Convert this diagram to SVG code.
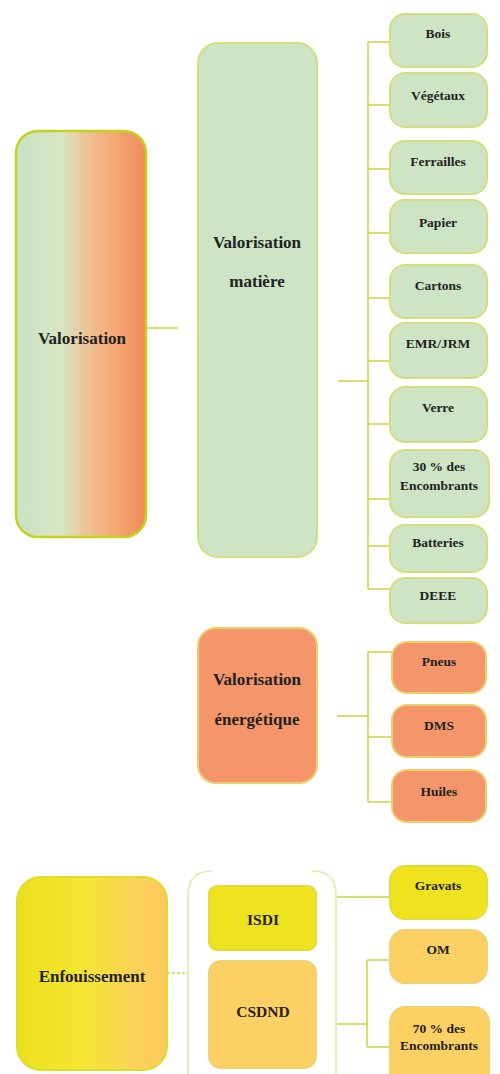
<svg xmlns="http://www.w3.org/2000/svg" width="500" height="1074" viewBox="0 0 500 1074">
<defs>
<linearGradient id="gVal" x1="0" y1="0" x2="1" y2="0">
<stop offset="0" stop-color="#c7e3c6"/>
<stop offset="0.35" stop-color="#d9e6c3"/>
<stop offset="0.52" stop-color="#eac79c"/>
<stop offset="0.7" stop-color="#f5b07c"/>
<stop offset="0.86" stop-color="#f29b68"/>
<stop offset="1" stop-color="#ee8a58"/>
</linearGradient>
<linearGradient id="gEnf" x1="0" y1="0" x2="1" y2="0">
<stop offset="0" stop-color="#ebe01c"/>
<stop offset="0.45" stop-color="#f5e634"/>
<stop offset="0.75" stop-color="#fbd456"/>
<stop offset="1" stop-color="#fcc95e"/>
</linearGradient>
</defs>
<style>
text{font-weight:bold;fill:#222;text-anchor:middle}
.big{font-size:17px}
.mid{font-size:15.5px}
.sm{font-size:13.5px}
.green{fill:#cde4c5;stroke:#d3df7c;stroke-width:2}
.orange{fill:#f4956a;stroke:#e9d06a;stroke-width:2}
.yellow{fill:#eee31e;stroke:#e2dc3a;stroke-width:2}
.gold{fill:#fdd064;stroke:#f0d070;stroke-width:2}
.conn{fill:none;stroke:#c9d640;stroke-width:1.5}
</style>
<g id="connectors">
<path class="conn" d="M146 328 H178"/>
<path class="conn" d="M338 381 H368 M368 42 V589 M368 42 H390 M368 105 H390 M368 169 H390 M368 233 H390 M368 298 H390 M368 361 H390 M368 424 H390 M368 499 H390 M368 546 H390 M368 589 H390"/>
<path class="conn" d="M337 716 H368 M368 652 V802 M368 652 H392 M368 737 H392 M368 802 H392"/>
<path class="conn" d="M167 973 H188" stroke-dasharray="3 2"/>
<path class="conn" d="M337 897 H390 M337 1024 H367 M367 960 V1047 M367 960 H390 M367 1047 H390"/>
</g>
<g font-family="'Liberation Serif', 'Times New Roman', 'DejaVu Serif', serif">
<g id="n-valorisation">
<rect x="16" y="131" width="130" height="406" rx="22" fill="url(#gVal)" stroke="#c4d21e" stroke-width="2.5"/>
<text class="big" x="82" y="344">Valorisation</text>
</g>
<g id="n-matiere">
<rect class="green" x="198" y="43" width="119" height="514" rx="20"/>
<text class="big" x="257" y="248">Valorisation</text>
<text class="big" x="257" y="287">matière</text>
</g>
<g id="n-bois"><rect class="green" x="390" y="14" width="97" height="53" rx="15"/><text class="sm" x="438" y="38">Bois</text></g>
<g id="n-vegetaux"><rect class="green" x="390" y="73" width="97" height="54" rx="15"/><text class="sm" x="438" y="100">Végétaux</text></g>
<g id="n-ferrailles"><rect class="green" x="390" y="141" width="97" height="53" rx="15"/><text class="sm" x="438" y="166">Ferrailles</text></g>
<g id="n-papier"><rect class="green" x="390" y="200" width="97" height="53" rx="15"/><text class="sm" x="438" y="227">Papier</text></g>
<g id="n-cartons"><rect class="green" x="390" y="265" width="97" height="53" rx="15"/><text class="sm" x="438" y="290">Cartons</text></g>
<g id="n-emr"><rect class="green" x="390" y="323" width="97" height="55" rx="15"/><text class="sm" x="438" y="348">EMR/JRM</text></g>
<g id="n-verre"><rect class="green" x="390" y="387" width="97" height="55" rx="15"/><text class="sm" x="438" y="412">Verre</text></g>
<g id="n-encombrants30"><rect class="green" x="390" y="450" width="99" height="67" rx="15"/><text class="sm" x="439" y="471">30 % des</text><text class="sm" x="439" y="490">Encombrants</text></g>
<g id="n-batteries"><rect class="green" x="390" y="525" width="97" height="47" rx="15"/><text class="sm" x="438" y="547">Batteries</text></g>
<g id="n-deee"><rect class="green" x="390" y="578" width="97" height="45" rx="15"/><text class="sm" x="438" y="600">DEEE</text></g>
<g id="n-energetique">
<rect class="orange" x="198" y="628" width="119" height="155" rx="18"/>
<text class="big" x="257" y="685">Valorisation</text>
<text class="big" x="257" y="725">énergétique</text>
</g>
<g id="n-pneus"><rect class="orange" x="392" y="642" width="94" height="51" rx="15"/><text class="sm" x="439" y="666">Pneus</text></g>
<g id="n-dms"><rect class="orange" x="392" y="705" width="94" height="52" rx="15"/><text class="sm" x="439" y="730">DMS</text></g>
<g id="n-huiles"><rect class="orange" x="392" y="770" width="94" height="52" rx="15"/><text class="sm" x="439" y="796">Huiles</text></g>
<g id="n-enfouissement">
<rect x="17" y="877" width="150" height="193" rx="24" fill="url(#gEnf)" stroke="#e0dc2a" stroke-width="2"/>
<text class="big" x="92" y="982">Enfouissement</text>
</g>
<g id="n-groupe">
<path d="M212 871 Q188 871 188 895 V1074 M312 871 Q336 871 336 895 V1074" fill="none" stroke="#e2e8a8" stroke-width="1.5"/>
</g>
<g id="n-isdi"><rect class="yellow" x="209" y="886" width="107" height="64" rx="8"/><text class="mid" x="263" y="925">ISDI</text></g>
<g id="n-csdnd"><rect class="gold" x="209" y="961" width="107" height="107" rx="12"/><text class="mid" x="263" y="1017">CSDND</text></g>
<g id="n-gravats"><rect class="yellow" x="390" y="866" width="97" height="53" rx="15"/><text class="sm" x="438" y="890">Gravats</text></g>
<g id="n-om"><rect class="gold" x="390" y="930" width="97" height="53" rx="15"/><text class="sm" x="438" y="954">OM</text></g>
<g id="n-encombrants70"><rect class="gold" x="390" y="1007" width="99" height="80" rx="15"/><text class="sm" x="439" y="1033">70 % des</text><text class="sm" x="439" y="1050">Encombrants</text></g>
</g>
</svg>
